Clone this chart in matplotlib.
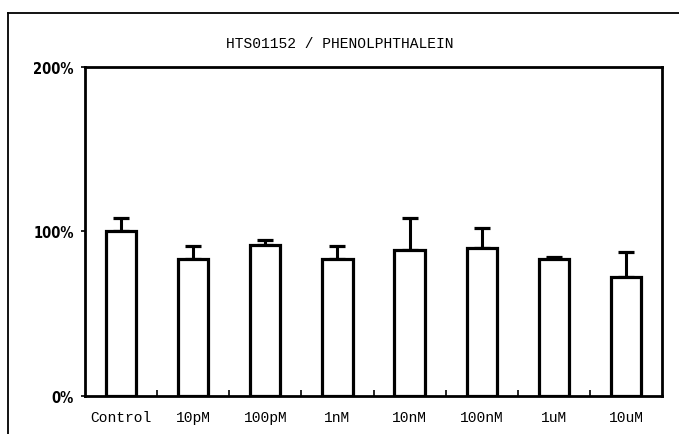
import matplotlib
matplotlib.use('Agg')
import matplotlib.pyplot as plt
from matplotlib.lines import Line2D
import numpy as np

# Relative response (% of control) for each concentration
doses = ['Control', '10pM', '100pM', '1nM', '10nM', '100nM', '1uM', '10uM']
response = [100, 83, 91.5, 83, 88.5, 90, 83.5, 72.5]
err_upper = [8.5, 8, 3.5, 8, 19.5, 12, 1, 15]

mono = 'Liberation Mono'

fig = plt.figure(figsize=(6.79, 4.35), dpi=100)
ax = fig.add_axes([0.1252, 0.0874, 0.8498, 0.7563])

x = np.arange(len(doses))
ax.bar(x, response, width=0.42, facecolor='white', edgecolor='black',
       linewidth=2.3, zorder=2)
ax.errorbar(x, response, yerr=[np.zeros(len(doses)), err_upper], fmt='none',
            ecolor='black', elinewidth=2.2, capsize=5.5, capthick=2.3, zorder=1)

ax.set_xlim(-0.5, len(doses) - 0.5)
ax.set_ylim(0, 200)
ax.set_yticks([0, 100, 200])
ax.set_yticklabels(['0%', '100%', '200%'], fontsize=10.5, fontweight='bold',
                   family='DejaVu Sans', fontstretch='condensed')
ax.set_xticks(x)
ax.set_xticklabels(doses, family=mono, fontsize=10.5)
ax.tick_params(axis='x', length=0, pad=10)
ax.tick_params(axis='y', length=3, width=1.2, pad=5)
# small inward marks at the category boundaries
ax.set_xticks(np.arange(0.5, len(doses) - 0.5), minor=True)
ax.tick_params(axis='x', which='minor', direction='in', length=4, width=1.2)

for side in ax.spines.values():
    side.set_linewidth(2.0)

fig.text(0.5, 0.899, 'HTS01152 / PHENOLPHTHALEIN', ha='center', va='center',
         family=mono, fontsize=10.5)

# outer border of the sheet
fig.add_artist(Line2D([0.012, 1.0], [0.968, 0.968], color='black', lw=1.3,
                      transform=fig.transFigure))
fig.add_artist(Line2D([0.012, 0.012], [0.0, 0.968], color='black', lw=1.3,
                      transform=fig.transFigure))

fig.savefig('out.png', dpi=100)
